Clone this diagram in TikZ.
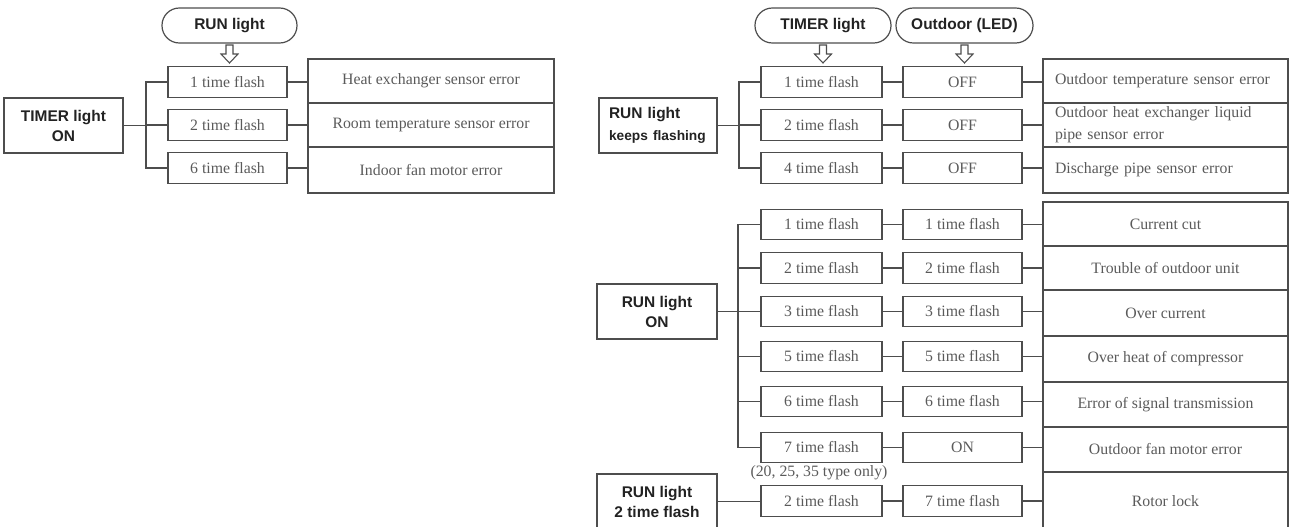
\documentclass[tikz,border=0pt]{standalone}
\usepackage{fontspec}
\setmainfont{Liberation Serif}
\setsansfont{Liberation Sans}
\usetikzlibrary{calc}
\definecolor{linegray}{HTML}{4D4D4D}
\definecolor{txtgray}{HTML}{5A5A5A}
\definecolor{lblcol}{HTML}{222222}
\newcommand\serifsz{\fontsize{11.85pt}{16.5pt}\selectfont}
\newcommand\lblfont{\sffamily\bfseries\fontsize{11.6pt}{15pt}\selectfont}
\newcommand\hollowdown[1]{%
  \draw[linegray, line width=0.8pt, fill=white, line join=miter]
    ($(#1)+(-3.5,2)$) -- ++(0,9) -- ++(-5,0) -- ++(8.5,9) -- ++(8.5,-9) -- ++(-5,0) -- ++(0,-9) -- cycle;}
\begin{document}
\begin{tikzpicture}[x=0.75pt,y=-0.75pt,
  every node/.style={inner sep=0pt, outer sep=0pt},
  conn/.style={draw=linegray, line width=0.9pt},
  pill/.style={draw=linegray, line width=0.9pt, rounded corners=13pt,
    minimum height=35*0.75pt, text=lblcol, font=\lblfont},
  lblbox/.style={draw=linegray, line width=0.9pt, minimum width=119*0.75pt,
    minimum height=55*0.75pt, text=lblcol, font=\lblfont, align=center},
  fbox/.style={draw=linegray, line width=0.9pt, minimum width=120*0.75pt,
    minimum height=30.5*0.75pt, text=txtgray, font=\serifsz},
  ecell/.style={draw=linegray, line width=0.9pt, minimum width=245*0.75pt,
    text=txtgray, font=\serifsz, align=center},
  hgt/.style={minimum height=#1*0.75pt}
]
\useasboundingbox (0,0) rectangle (1290,526);
\clip (0,0) rectangle (1290,526);

% ---------------- left diagram ----------------
\node[pill, minimum width=135*0.75pt] (pRun) at (229.5,25.5) {RUN light};
\node[lblbox] (tOn) at (63.5,125.5) {TIMER light\\ON};
\node[fbox, minimum width=119*0.75pt] (L1) at (227.5,82) {1 time flash};
\node[fbox, minimum width=119*0.75pt] (L2) at (227.5,125) {2 time flash};
\node[fbox, minimum width=119*0.75pt] (L3) at (227.5,168) {6 time flash};
\node[ecell, minimum width=246*0.75pt, hgt=44] (LE1) at (431,81) {Heat exchanger sensor error};
\node[ecell, minimum width=246*0.75pt, hgt=44] (LE2) at (431,125) {Room temperature sensor error};
\node[ecell, minimum width=246*0.75pt, hgt=46] (LE3) at (431,170) {Indoor fan motor error};
\coordinate (bL) at (146,125);
\hollowdown{pRun.south}
\draw[conn] (tOn.east) -- (tOn.east -| bL);
\draw[conn] (L1.west) -- (L1.west -| bL) -- (L3.west -| bL) -- (L3.west);
\draw[conn] (L2.west) -- (L2.west -| bL);
\foreach \i in {1,2,3} \draw[conn] (L\i.east) -- (L\i.east -| LE\i.west);

% ---------------- right upper diagram ----------------
\node[pill, minimum width=136*0.75pt] (pTim) at (823,25.5) {TIMER light};
\node[pill, minimum width=137*0.75pt] (pOut) at (964.5,25.5) {Outdoor (LED)};
\node[lblbox, minimum width=118*0.75pt, text width=98*0.75pt, align=left] (rFl) at (658,125.5)
  {\mbox{RUN light}\\[1pt]{\fontsize{10.3pt}{14pt}\selectfont\mbox{keeps flashing}}};
\coordinate (bR) at (739,125);
\node[fbox, minimum width=121*0.75pt] (A1) at (821.5,82) {1 time flash};
\node[fbox, minimum width=121*0.75pt] (A2) at (821.5,125) {2 time flash};
\node[fbox, minimum width=121*0.75pt] (A3) at (821.5,168) {4 time flash};
\node[fbox, minimum width=119*0.75pt] (B1) at (962.5,82) {OFF};
\node[fbox, minimum width=119*0.75pt] (B2) at (962.5,125) {OFF};
\node[fbox, minimum width=119*0.75pt] (B3) at (962.5,168) {OFF};
\node[ecell, hgt=44, text width=221*0.75pt, align=left] (RE1) at (1165.5,81) {Outdoor temperature sensor error};
\node[ecell, hgt=44, text width=221*0.75pt, align=left] (RE2) at (1165.5,125) {Outdoor heat exchanger liquid\\pipe sensor error};
\node[ecell, hgt=46, text width=221*0.75pt, align=left] (RE3) at (1165.5,170) {Discharge pipe sensor error};
\hollowdown{pTim.south}
\hollowdown{pOut.south}
\draw[conn] (rFl.east) -- (rFl.east -| bR);
\draw[conn] (A1.west) -- (A1.west -| bR) -- (A3.west -| bR) -- (A3.west);
\draw[conn] (A2.west) -- (A2.west -| bR);
\foreach \i in {1,2,3} {
  \draw[conn] (A\i.east) -- (B\i.west);
  \draw[conn] (B\i.east) -- (B\i.east -| RE\i.west);
}

% ---------------- right lower diagram ----------------
\node[lblbox, minimum width=120*0.75pt] (rOn) at (657,311.5) {RUN light\\ON};
\node[lblbox, minimum width=120*0.75pt] (r2) at (657,501.5) {RUN light\\2 time flash};
\coordinate (bO) at (738,311.5);
\foreach \n/\y/\a/\b in {1/224.5/1 time flash/1 time flash,
                        2/268/2 time flash/2 time flash,
                        3/311.5/3 time flash/3 time flash,
                        4/356.5/5 time flash/5 time flash,
                        5/401.5/6 time flash/6 time flash,
                        6/447.5/7 time flash/ON,
                        7/501/2 time flash/7 time flash} {
  \node[fbox, minimum width=121*0.75pt] (C\n) at (821.5,\y) {\a};
  \node[fbox, minimum width=119*0.75pt] (D\n) at (962.5,\y) {\b};
}
\node[text=txtgray, font=\serifsz] (note) at (819,473) {(20, 25, 35 type only)};
\node[ecell, hgt=44] (F1) at (1165.5,224) {Current cut};
\node[ecell, hgt=44] (F2) at (1165.5,268) {Trouble of outdoor unit};
\node[ecell, hgt=46] (F3) at (1165.5,313) {Over current};
\node[ecell, hgt=46] (F4) at (1165.5,359) {Over heat of compressor};
\node[ecell, hgt=45] (F5) at (1165.5,404.5) {Error of signal transmission};
\node[ecell, hgt=45] (F6) at (1165.5,449.5) {Outdoor fan motor error};
\node[ecell, hgt=58] (F7) at (1165.5,501) {Rotor lock};
\draw[conn] (rOn.east) -- (rOn.east -| bO);
\draw[conn] (C1.west) -- (C1.west -| bO) -- (C6.west -| bO) -- (C6.west);
\foreach \i in {2,3,4,5} \draw[conn] (C\i.west) -- (C\i.west -| bO);
\draw[conn] (r2.east) -- (r2.east -| C7.west);
\foreach \i in {1,...,7} {
  \draw[conn] (C\i.east) -- (D\i.west);
  \draw[conn] (D\i.east) -- (D\i.east -| F\i.west);
}
\end{tikzpicture}
\end{document}
